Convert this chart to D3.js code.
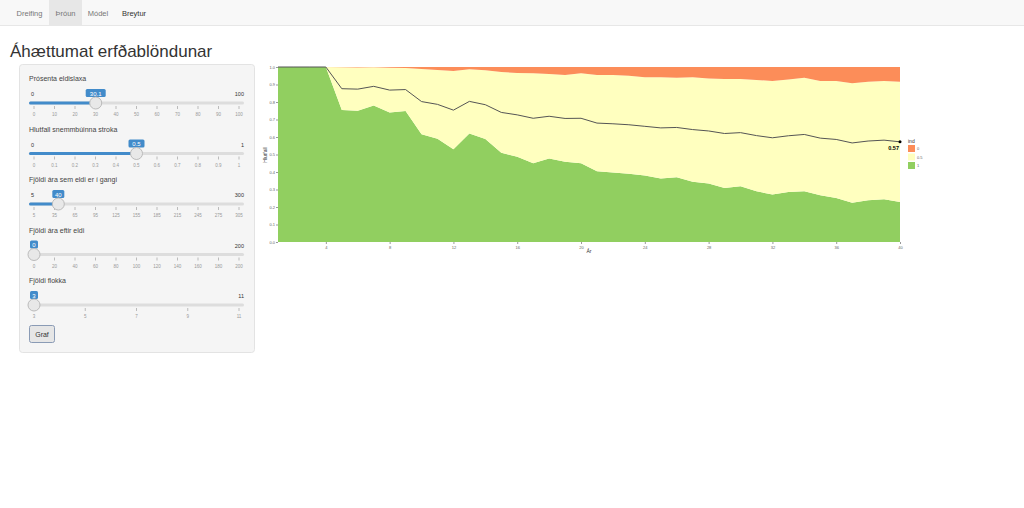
<!DOCTYPE html>
<html><head><meta charset="utf-8">
<script src="https://cdn.jsdelivr.net/npm/d3@7"></script>
<style>
body{margin:0;font-family:"Liberation Sans",Arial,sans-serif;background:#fff;}
</style></head>
<body>
<svg id="page" width="1024" height="508"></svg>
<script>
// ---- data ----
var years = d3.range(1, 41);
// share of category "1" (green, bottom)
var share1 = [1,1,1,1,0.754,0.75,0.78,0.74,0.748,0.616,0.59,0.53,0.62,0.588,0.51,0.487,0.45,0.477,0.458,0.45,
 0.405,0.397,0.39,0.38,0.363,0.37,0.344,0.334,0.309,0.319,0.29,0.271,0.286,0.29,0.267,0.252,0.225,0.238,0.244,0.229];
// share of category "0" (orange, top)
var share0 = [0,0,0,0,0.002,0.003,0.001,0.004,0.006,0.011,0.017,0.023,0.013,0.019,0.029,0.034,0.036,0.04,0.046,0.036,
 0.046,0.046,0.05,0.058,0.059,0.061,0.059,0.065,0.069,0.069,0.074,0.08,0.072,0.061,0.08,0.08,0.093,0.084,0.08,0.084];
var cats = ['0', '0.5', '1'];
var catColors = ['#fc8d59', '#ffffbf', '#91cf60'];
var yTicks = d3.range(0, 11).map(function(d){ return d / 10; });
var xTicks = [4, 8, 12, 16, 20, 24, 28, 32, 36, 40];
var tabs = ['Dreifing', 'Þróun', 'Módel', 'Breytur'];
var sliders = [
 {label:'Prósenta eldislaxa', min:0, max:100, value:30.1, ticks:[0,10,20,30,40,50,60,70,80,90,100]},
 {label:'Hlutfall snemmbúinna stroka', min:0, max:1, value:0.5, ticks:[0,0.1,0.2,0.3,0.4,0.5,0.6,0.7,0.8,0.9,1]},
 {label:'Fjöldi ára sem eldi er í gangi', min:5, max:300, value:40, ticks:[5,35,65,95,125,155,185,215,245,275,305]},
 {label:'Fjöldi ára eftir eldi', min:0, max:200, value:0, ticks:[0,20,40,60,80,100,120,140,160,180,200]},
 {label:'Fjöldi flokka', min:3, max:11, value:3, ticks:[3,5,7,9,11]}
];
var tickText = [
 ['0','10','20','30','40','50','60','70','80','90','100'],
 ['0','0.1','0.2','0.3','0.4','0.5','0.6','0.7','0.8','0.9','1'],
 ['5','35','65','95','125','155','185','215','245','275','305'],
 ['0','20','40','60','80','100','120','140','160','180','200'],
 ['3','5','7','9','11']
];

var svg = d3.select('#page');

// ---- navbar ----
svg.append('rect').attr('x',0).attr('y',0).attr('width',1024).attr('height',25).attr('fill','#f8f8f8');
svg.append('line').attr('x1',0).attr('x2',1024).attr('y1',25.5).attr('y2',25.5).attr('stroke','#e7e7e7');
var tabX = [10, 49, 82, 114], tabW = [39, 33, 32, 40];
tabs.forEach(function(t, i){
 if (i == 1) svg.append('rect').attr('x',tabX[i]).attr('y',0).attr('width',tabW[i]).attr('height',25).attr('fill','#e7e7e7');
 svg.append('text').attr('x',tabX[i] + tabW[i]/2).attr('y',16).attr('text-anchor','middle')
  .attr('font-size',7.5).attr('fill', i == 3 ? '#333' : '#777').text(t);
});

svg.append('text').attr('x',10).attr('y',57).attr('font-size',17).attr('fill','#333').text('Áhættumat erfðablöndunar');

// ---- sidebar ----
svg.append('rect').attr('x',19.5).attr('y',64.5).attr('width',235).attr('height',288).attr('rx',3)
 .attr('fill','#f5f5f5').attr('stroke','#e3e3e3');
var sx0 = 29, sx1 = 244, step = 50.5;
sliders.forEach(function(s, i){
 var top = 78 + i * step;
 var g = svg.append('g');
 var sc = d3.scaleLinear().domain([s.min, s.max]).range([sx0 + 5, sx1 - 5]);
 var tsc = d3.scaleLinear().domain([0, s.ticks.length - 1]).range([sx0 + 5, sx1 - 5]);
 g.append('text').attr('x',29).attr('y',top + 3).attr('font-size',7).attr('fill','#444').text(s.label);
 g.append('text').attr('x',sx0 + 2).attr('y',top + 18).attr('font-size',5.5).attr('fill','#333').text(s.min);
 g.append('text').attr('x',sx1).attr('y',top + 18).attr('text-anchor','end').attr('font-size',5.5).attr('fill','#333').text(s.max);
 g.append('rect').attr('x',sx0).attr('y',top + 23.5).attr('width',sx1 - sx0).attr('height',3).attr('rx',1.5).attr('fill','#ddd');
 g.append('rect').attr('x',sx0).attr('y',top + 23.5).attr('width',sc(s.value) - sx0).attr('height',3).attr('rx',1.5).attr('fill','#428bca');
 tickText[i].forEach(function(t, k){
  var x = tsc(k);
  g.append('line').attr('x1',x).attr('x2',x).attr('y1',top + 28).attr('y2',top + 31).attr('stroke','#bbb');
  g.append('text').attr('x',x).attr('y',top + 38).attr('text-anchor','middle').attr('font-size',4.5).attr('fill','#999').text(t);
 });
 var hx = sc(s.value);
 var lbl = String(s.value);
 var bw = lbl.length * 4 + 4;
 g.append('rect').attr('x',hx - bw/2).attr('y',top + 11).attr('width',bw).attr('height',8).attr('rx',1.5).attr('fill','#428bca');
 g.append('text').attr('x',hx).attr('y',top + 17.5).attr('text-anchor','middle').attr('font-size',6).attr('fill','#fff').text(lbl);
 g.append('circle').attr('cx',hx).attr('cy',top + 25).attr('r',6).attr('fill','#e8e8e8').attr('stroke','#bbb');
});
svg.append('rect').attr('x',29.5).attr('y',325.5).attr('width',25).attr('height',17).attr('rx',2)
 .attr('fill','#e6e6e6').attr('stroke','#8a9bb5');
svg.append('text').attr('x',42).attr('y',337).attr('text-anchor','middle').attr('font-size',7).attr('fill','#333').text('Graf');

// ---- chart ----
var x = d3.scaleLinear().domain([1, 40]).range([278, 900]);
var y = d3.scaleLinear().domain([0, 1]).range([242, 67]);
var rows = years.map(function(yr, i){
 return {year: yr, '1': share1[i], '0.5': 1 - share1[i] - share0[i], '0': share0[i]};
});
var stack = d3.stack().keys(['1', '0.5', '0'])(rows);
var area = d3.area().x(function(d){ return x(d.data.year); })
 .y0(function(d){ return y(d[0]); }).y1(function(d){ return y(d[1]); });
var color = d3.scaleOrdinal().domain(cats).range(catColors);
svg.append('g').selectAll('path').data(stack).join('path')
 .attr('d', area).attr('fill', function(d){ return color(d.key); });

var mean = rows.map(function(r){ return {year: r.year, v: r['1'] + 0.5 * r['0.5']}; });
svg.append('path').datum(mean).attr('fill','none').attr('stroke','#555').attr('stroke-width',1)
 .attr('d', d3.line().x(function(d){ return x(d.year); }).y(function(d){ return y(d.v); }));
var last = mean[mean.length - 1];
svg.append('circle').attr('cx',x(last.year)).attr('cy',y(last.v)).attr('r',1.5).attr('fill','#000');
svg.append('text').attr('x',x(last.year) - 1).attr('y',y(last.v) + 8).attr('text-anchor','end')
 .attr('font-size',5.5).attr('font-weight','bold').text(d3.format('.2f')(last.v));

var xAx = svg.append('g').attr('transform','translate(0,242)')
 .call(d3.axisBottom(x).tickValues(xTicks).tickSize(2).tickPadding(2));
var yAx = svg.append('g').attr('transform','translate(278,0)')
 .call(d3.axisLeft(y).tickValues(yTicks).tickFormat(d3.format('.1f')).tickSize(2).tickPadding(1));
[xAx, yAx].forEach(function(a){
 a.select('.domain').remove();
 a.selectAll('line').attr('stroke','#999');
 a.selectAll('text').attr('font-size',4).attr('fill','#666');
});
svg.append('text').attr('x',589).attr('y',253).attr('text-anchor','middle').attr('font-size',5).attr('fill','#333').text('Ár');
svg.append('text').attr('transform','translate(267,155) rotate(-90)').attr('text-anchor','middle')
 .attr('font-size',5).attr('fill','#333').text('Hlutfall');

// legend
svg.append('text').attr('x',908).attr('y',143).attr('font-size',5).attr('fill','#333').text('ind');
cats.forEach(function(c, i){
 var ly = 145 + i * 8.5;
 svg.append('rect').attr('x',908).attr('y',ly).attr('width',7).attr('height',7).attr('fill',catColors[i]);
 svg.append('text').attr('x',917).attr('y',ly + 5).attr('font-size',4).attr('fill','#666').text(c);
});
</script>
</body></html>
